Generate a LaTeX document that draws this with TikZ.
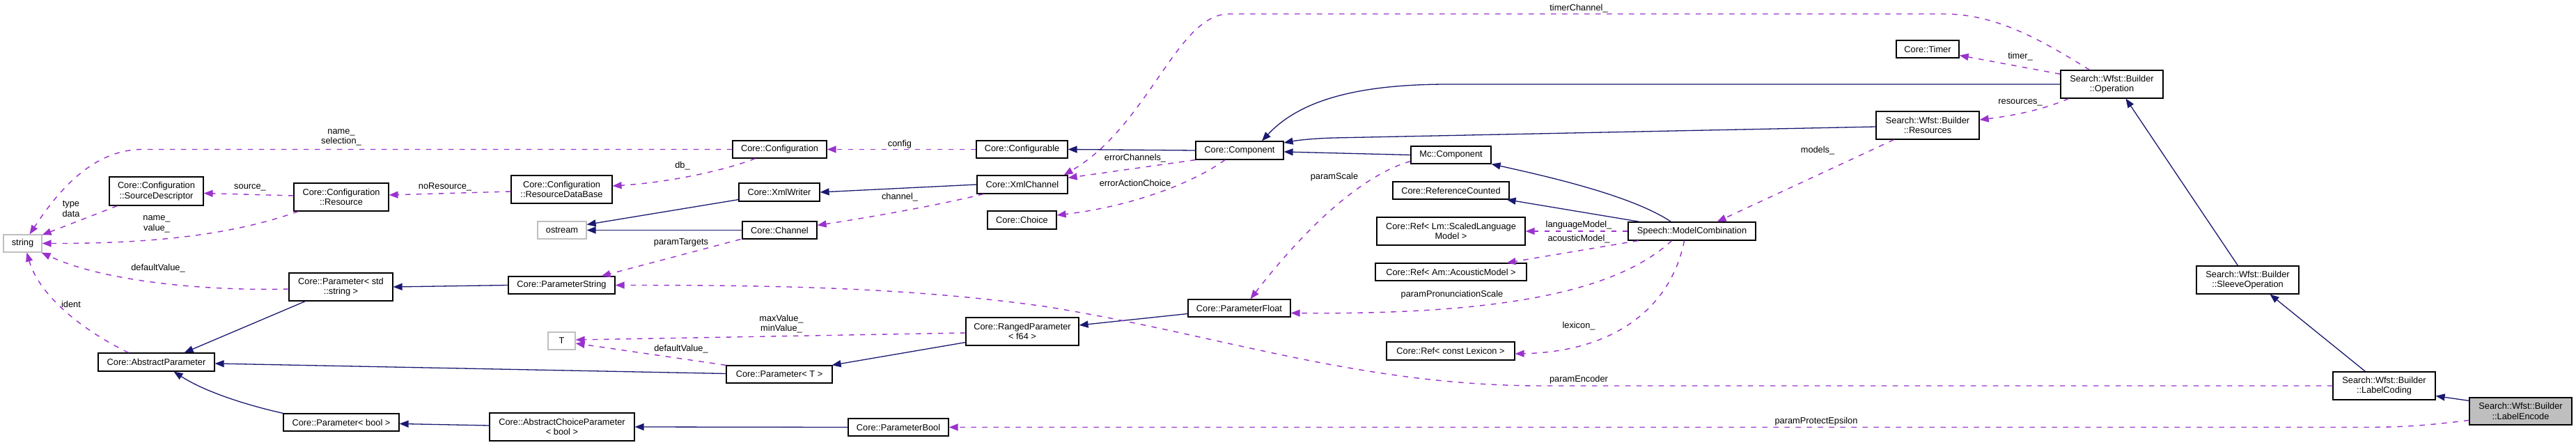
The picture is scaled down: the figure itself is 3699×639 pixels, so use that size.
\documentclass[tikz,border=0pt]{standalone}
\usepackage{fontspec}
\setmainfont{Liberation Sans}
\usetikzlibrary{arrows.meta,calc}
\definecolor{inhcol}{HTML}{191970}
\definecolor{usecol}{HTML}{9A32CD}
\definecolor{extgray}{HTML}{BFBFBF}
\begin{document}
\begin{tikzpicture}[x=1pt,y=-1pt,
  font=\fontsize{12.8}{14.5}\selectfont,
  classbox/.style={draw=black, fill=white, line width=1.2pt, inner sep=0pt, align=center},
  extbox/.style={classbox, draw=extgray},
  curbox/.style={classbox, fill=extgray},
  inhedge/.style={draw=inhcol, line width=1.3pt, -{Triangle[length=13pt,width=10pt]}},
  useedge/.style={draw=usecol, line width=1.4pt, dash pattern=on 7.5pt off 8.5pt, -{Triangle[length=13pt,width=10pt]}},
  elabel/.style={inner sep=0pt, align=center}]
\fill[white] (0,0) rectangle (3699,639);
\useasboundingbox (0,0) rectangle (3699,639);

% nodes
\node[extbox, minimum width=55pt, minimum height=25pt] (str) at (32.5,349.5) {string};
\node[classbox, minimum width=135pt, minimum height=41pt] (srcd) at (224.5,274.5) {Core::Configuration\\::SourceDescriptor};
\node[classbox, minimum width=136pt, minimum height=40pt] (res) at (490,283) {Core::Configuration\\::Resource};
\node[classbox, minimum width=149pt, minimum height=40pt] (pstr) at (489.5,412) {Core::Parameter< std\\::string >};
\node[classbox, minimum width=167pt, minimum height=26pt] (absp) at (224.5,520) {Core::AbstractParameter};
\node[classbox, minimum width=166pt, minimum height=25pt] (pbool) at (490,606.5) {Core::Parameter< bool >};
\node[classbox, minimum width=145pt, minimum height=40pt] (rdb) at (806.5,272) {Core::Configuration\\::ResourceDataBase};
\node[classbox, minimum width=135pt, minimum height=25pt] (conf) at (1119.5,214.5) {Core::Configuration};
\node[classbox, minimum width=116pt, minimum height=26pt] (xmlw) at (1119,276) {Core::XmlWriter};
\node[extbox, minimum width=70pt, minimum height=25pt] (ostr) at (807,330.5) {ostream};
\node[classbox, minimum width=107pt, minimum height=25pt] (chan) at (1119.5,330.5) {Core::Channel};
\node[classbox, minimum width=153pt, minimum height=25pt] (pstring) at (806.5,409.5) {Core::ParameterString};
\node[extbox, minimum width=39pt, minimum height=25pt] (T) at (806.5,489.5) {T};
\node[classbox, minimum width=152pt, minimum height=25pt] (pT) at (1119,537.5) {Core::Parameter< T >};
\node[classbox, minimum width=208pt, minimum height=40pt] (acp) at (807,613) {Core::AbstractChoiceParameter\\< bool >};
\node[classbox, minimum width=144pt, minimum height=25pt] (pb) at (1290,613.5) {Core::ParameterBool};
\node[classbox, minimum width=131pt, minimum height=25pt] (cfgable) at (1467.5,214.5) {Core::Configurable};
\node[classbox, minimum width=126pt, minimum height=26pt] (comp) at (1780,216) {Core::Component};
\node[classbox, minimum width=130pt, minimum height=26pt] (xmlc) at (1468,265) {Core::XmlChannel};
\node[classbox, minimum width=99pt, minimum height=26pt] (choice) at (1467.5,316) {Core::Choice};
\node[classbox, minimum width=147pt, minimum height=25pt] (pf) at (1779.5,442.5) {Core::ParameterFloat};
\node[classbox, minimum width=162pt, minimum height=40pt] (rp) at (1468,476) {Core::RangedParameter\\< f64 >};
\node[classbox, minimum width=115pt, minimum height=25pt] (mcc) at (2083.5,222.5) {Mc::Component};
\node[classbox, minimum width=167pt, minimum height=25pt] (refc) at (2083.5,273.5) {Core::ReferenceCounted};
\node[classbox, minimum width=213pt, minimum height=40pt] (reflm) at (2083.5,332) {Core::Ref< Lm::ScaledLanguage\\Model >};
\node[classbox, minimum width=183pt, minimum height=26pt] (mc) at (2429.5,332) {Speech::ModelCombination};
\node[classbox, minimum width=217pt, minimum height=25pt] (refam) at (2083.5,390.5) {Core::Ref< Am::AcousticModel >};
\node[classbox, minimum width=184pt, minimum height=26pt] (reflex) at (2083,504) {Core::Ref< const Lexicon >};
\node[classbox, minimum width=90pt, minimum height=25pt] (timer) at (2768,70.5) {Core::Timer};
\node[classbox, minimum width=147pt, minimum height=40pt] (op) at (3032.5,121) {Search::Wfst::Builder\\::Operation};
\node[classbox, minimum width=148pt, minimum height=40pt] (rsc) at (2768,180) {Search::Wfst::Builder\\::Resources};
\node[classbox, minimum width=147pt, minimum height=40pt] (sleeve) at (3227.5,402) {Search::Wfst::Builder\\::SleeveOperation};
\node[classbox, minimum width=147pt, minimum height=40pt] (lc) at (3423.5,554) {Search::Wfst::Builder\\::LabelCoding};
\node[curbox, minimum width=147pt, minimum height=39pt] (le) at (3619.5,590.5) {Search::Wfst::Builder\\::LabelEncode};

% inheritance edges
\draw[inhedge] ([xshift=24pt]pstr.south west) -- ([xshift=-44pt]absp.north east);
\draw[inhedge] ([yshift=1pt]pT.west) -- ([yshift=-2pt]absp.east);
\draw[inhedge] (pbool.north west) .. controls (355,582) and (295,563) .. ([xshift=25pt]absp.south);
\draw[inhedge] (pstring.west) -- (pstr.east);
\draw[inhedge] ([yshift=2pt]acp.west) -- ([yshift=-2pt]pbool.east);
\draw[inhedge] (pb.west) -- (acp.east);
\draw[inhedge] ([yshift=5pt]rp.south west) -- ([xshift=-1pt]pT.north east);
\draw[inhedge] ([yshift=-8pt]pf.west) -- ([yshift=9pt]rp.east);
\draw[inhedge] ([yshift=3pt]xmlw.south west) -- ([yshift=8pt]ostr.east);
\draw[inhedge] (chan.west) -- (ostr.east);
\draw[inhedge] (xmlc.west) -- (xmlw.east);
\draw[inhedge] (comp.west) -- (cfgable.east);
\draw[inhedge] (mcc.west) -- ([yshift=-2pt]comp.east);
\draw[inhedge] ([xshift=-30pt]mc.north) .. controls (2345,282) and (2230,255) .. (mcc.south east);
\draw[inhedge] ([xshift=17pt]mc.north west) -- ([xshift=-4pt]refc.south east);
\draw[inhedge] ([yshift=-2pt]rsc.west) -- (1915,198) .. controls (1880,199) and (1860,202) .. ([yshift=11pt]comp.east);
\draw[inhedge] (op.west) -- (2080,121) .. controls (1960,121) and (1870,140) .. ([xshift=32pt]comp.north);
\draw[inhedge] ([xshift=-14pt]sleeve.north) -- ([xshift=20pt]op.south);
\draw[inhedge] ([xshift=-27pt]lc.north) -- ([xshift=32pt]sleeve.south);
\draw[inhedge] ([yshift=-5pt]le.north west) -- ([yshift=6pt]lc.south east);

% usage edges
\draw[useedge] (conf.west) -- (205,214.5) .. controls (130,214.5) and (80,280) .. ([xshift=10pt]str.north);
\draw[useedge] ([xshift=12pt]srcd.south west) -- ([yshift=-1pt]str.north east);
\draw[useedge] ([xshift=7pt]res.south west) .. controls (340,335) and (230,350) .. (str.east);
\draw[useedge] ([yshift=-3pt]pstr.west) .. controls (300,418) and (150,405) .. ([xshift=-1pt]str.south east);
\draw[useedge] ([xshift=-40pt]absp.north) .. controls (110,470) and (55,420) .. ([xshift=6pt]str.south);
\draw[useedge] ([yshift=2pt]res.west) -- ([yshift=-3pt]srcd.east);
\draw[useedge] ([yshift=-3pt]rdb.west) -- ([yshift=3pt]res.east);
\draw[useedge] ([xshift=-35pt]conf.south) .. controls (1040,245) and (960,262) .. ([yshift=5pt]rdb.east);
\draw[useedge] (cfgable.west) -- (conf.east);
\draw[useedge] (comp.south west) -- ([yshift=-4pt]xmlc.north east);
\draw[useedge] ([xshift=-21pt]comp.south) .. controls (1710,265) and (1620,297) .. ([yshift=7pt]choice.east);
\draw[useedge] ([xshift=10pt]xmlc.south west) .. controls (1350,294) and (1250,312) .. ([yshift=7pt]chan.east);
\draw[useedge] ([xshift=-32pt]op.north) .. controls (2920,50) and (2860,20) .. (2790,20) -- (1765,20) .. controls (1690,20) and (1650,180) .. ([xshift=-6pt]xmlc.north east);
\draw[useedge] ([xshift=-2pt]chan.south west) -- ([xshift=-20pt]pstring.north east);
\draw[useedge] (lc.west) -- (2215,554) .. controls (1950,554) and (1750,480) .. (1500,440) .. controls (1300,412) and (1100,409.5) .. (pstring.east);
\draw[useedge] ([xshift=-29pt]mc.south) .. controls (2320,420) and (2150,452) .. ([yshift=-7pt]pf.east);
\draw[useedge] ([yshift=4pt]mcc.south west) .. controls (1960,250) and (1880,320) .. ([xshift=16pt]pf.north);
\draw[useedge] (mc.west) -- (reflm.east);
\draw[useedge] ([xshift=15pt]mc.south west) -- ([xshift=-29pt]refam.north east);
\draw[useedge] ([xshift=-11pt]mc.south) .. controls (2400,440) and (2320,505) .. ([yshift=-4pt]reflex.east);
\draw[useedge] ([xshift=26pt]rsc.south west) -- ([xshift=-56pt]mc.north east);
\draw[useedge] ([yshift=-6pt]op.north west) -- ([yshift=-9pt]timer.east);
\draw[useedge] ([xshift=12pt]op.south west) .. controls (2940,155) and (2900,165) .. ([yshift=8pt]rsc.east);
\draw[useedge] (pT.north west) -- ([yshift=-3.5pt]T.east);
\draw[useedge] ([yshift=-2pt]rp.west) -- ([yshift=1.5pt]T.east);
\draw[useedge] ([yshift=-13pt]le.west) .. controls (3500,609) and (3460,613.5) .. (3400,613.5) -- (pb.east);

% edge labels
\node[elabel] (lnamesel) at (490,197.5) {name\_\\selection\_};
\node[elabel] (lsource) at (359,269) {source\_};
\node[elabel] (ltypedata) at (102,300) {type\\data};
\node[elabel] (lnameval) at (225,322) {name\_\\value\_};
\node[elabel] (ldefstr) at (227,385) {defaultValue\_};
\node[elabel] (lident) at (102,437) {ident};
\node[elabel] (lnores) at (639,268) {noResource\_};
\node[elabel] (ldb) at (980,238) {db\_};
\node[elabel] (lptargets) at (978,348) {paramTargets};
\node[elabel] (lminmax) at (1122,465) {maxValue\_\\minValue\_};
\node[elabel] (ldefT) at (978,501) {defaultValue\_};
\node[elabel] (lconfig) at (1292,207) {config};
\node[elabel] (lchannel) at (1292,283) {channel\_};
\node[elabel] (lerrch) at (1630,227) {errorChannels\_};
\node[elabel] (lerract) at (1630,263) {errorActionChoice};
\node[elabel] (lpscale) at (1916,254) {paramScale};
\node[elabel] (llm) at (2267,323) {languageModel\_};
\node[elabel] (lam) at (2267,343) {acousticModel\_};
\node[elabel] (lppron) at (2085,423) {paramPronunciationScale};
\node[elabel] (llex) at (2267,468) {lexicon\_};
\node[elabel] (lpenc) at (2267,545) {paramEncoder};
\node[elabel] (lmodels) at (2610,216) {models\_};
\node[elabel] (lppe) at (2608,605) {paramProtectEpsilon};
\node[elabel] (ltimer) at (2901,81) {timer\_};
\node[elabel] (lres) at (2901,147) {resources\_};
\node[elabel] (ltch) at (2267,12) {timerChannel\_};
\end{tikzpicture}
\end{document}
